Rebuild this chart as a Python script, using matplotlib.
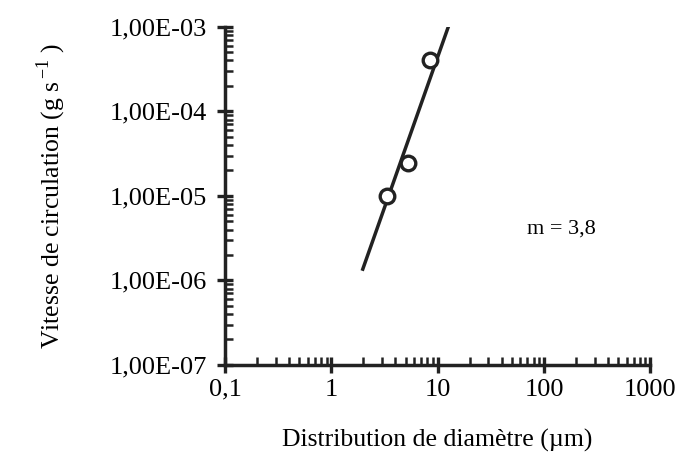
import numpy as np
from matplotlib import pyplot as plt
from matplotlib.ticker import LogLocator, FixedLocator

# points mesures (diametre en um, vitesse en g/s)
diametre = [3.35, 5.3, 8.5]
vitesse = [1.0e-5, 2.45e-5, 4.1e-4]
# droite ajustee (extremites)
droite_x = [1.95, 13.1]
droite_y = [1.3e-6, 1.15e-3]

x_ticks = [0.1, 1, 10, 100, 1000]
x_labels = ['0,1', '1', '10', '100', '1000']
y_ticks = [1e-7, 1e-6, 1e-5, 1e-4, 1e-3]
y_labels = ['1,00E-07', '1,00E-06', '1,00E-05', '1,00E-04', '1,00E-03']

plt.rcParams['font.family'] = ['Liberation Serif', 'DejaVu Serif']

fig = plt.figure(figsize=(6.78, 4.55), dpi=100)
ax = fig.add_axes([0.332, 0.198, 0.627, 0.743])
ax.set_xscale('log')
ax.set_yscale('log')
ax.set_xlim(0.1, 1000)
ax.set_ylim(1e-7, 1e-3)

ax.plot(droite_x, droite_y, color='#222222', lw=2.5, solid_capstyle='butt')
ax.plot(diametre, vitesse, 'o', ms=10.5, mfc='white', mec='#222222', mew=2.4)

for s in ['top', 'right']:
    ax.spines[s].set_visible(False)
for s in ['left', 'bottom']:
    ax.spines[s].set_linewidth(2.5)
    ax.spines[s].set_color('#222222')

ax.xaxis.set_major_locator(FixedLocator(x_ticks))
ax.set_xticklabels(x_labels)
ax.yaxis.set_major_locator(FixedLocator(y_ticks))
ax.set_yticklabels(y_labels)
ax.xaxis.set_minor_locator(LogLocator(base=10, subs=np.arange(2, 10)))
ax.yaxis.set_minor_locator(LogLocator(base=10, subs=np.arange(2, 10)))

ax.tick_params(which='major', direction='inout', length=12, width=2.4,
               color='#222222', labelsize=19, pad=7)
ax.tick_params(which='minor', direction='in', length=6, width=1.8,
               color='#222222')
ax.tick_params(axis='x', which='major', pad=4)

ax.text(70, 4.1e-6, 'm = 3,8', fontsize=16, ha='left', va='center')

ax.set_xlabel('Distribution de diamètre (µm)', fontsize=18.5, labelpad=20)
ax.set_ylabel('Vitesse de circulation (g s$^{\\,\\mathregular{-1}}$ )', fontsize=18.5, labelpad=30)

fig.savefig('out.png', dpi=100, facecolor='white')
